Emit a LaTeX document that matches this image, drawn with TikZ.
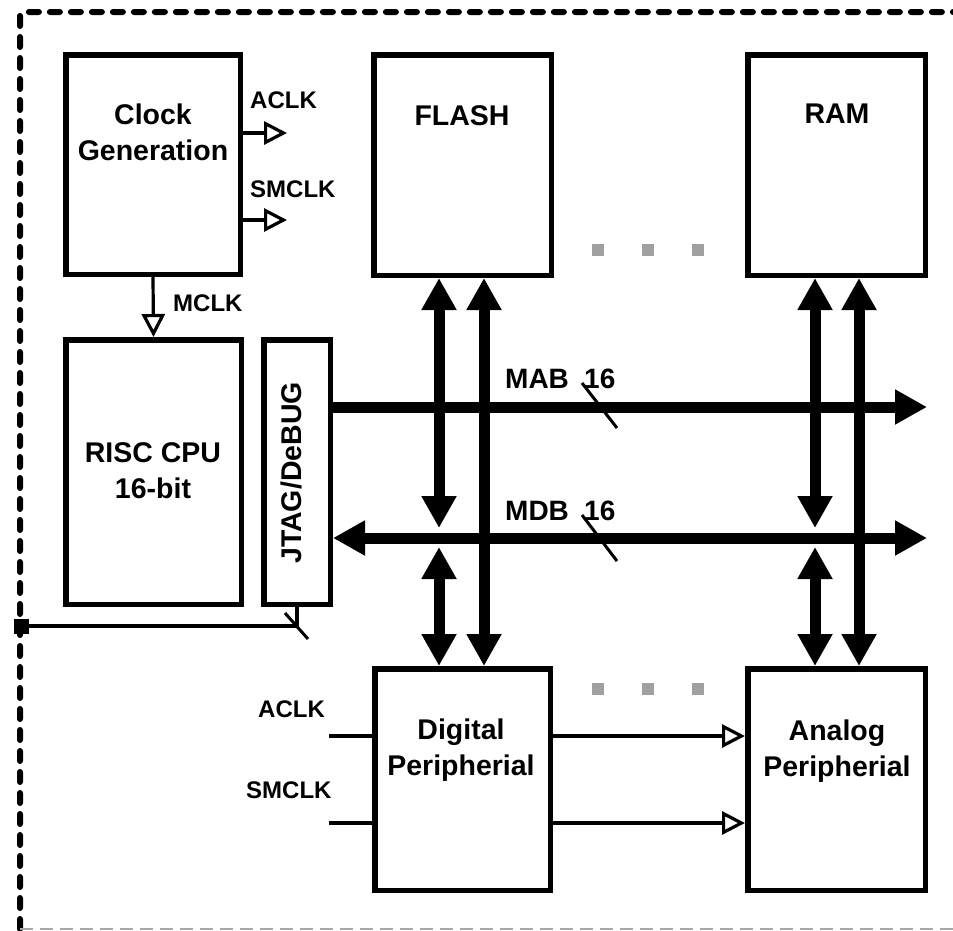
\documentclass[tikz,border=0pt]{standalone}
\usepackage{fontspec}
\setmainfont{Liberation Sans}
\usetikzlibrary{arrows.meta}
\definecolor{dotgray}{HTML}{A0A0A0}
\definecolor{framegray}{HTML}{A8A8A8}
\tikzset{
  bustip/.tip={Triangle[width=33pt,length=32pt]},
  opentip/.tip={Triangle[open,width=23pt,length=23pt]},
}
\begin{document}
\begin{tikzpicture}[x=1pt,y=-1pt,
  block/.style={draw, line width=5.5pt, inner sep=0pt, fill=white},
  boxtext/.style={font=\fontsize{28.5}{36}\selectfont\bfseries, align=center, anchor=north, inner sep=0pt},
  sig/.style={font=\fontsize{24}{28}\selectfont\bfseries, anchor=base west, inner sep=0pt},
  buslbl/.style={font=\fontsize{28}{32}\selectfont\bfseries, anchor=base west, inner sep=0pt},
  bus/.style={line width=11pt},
  wire/.style={line width=3.2pt},
  tick/.style={line width=3pt},
  dotsq/.style={fill=dotgray, minimum size=12pt, inner sep=0pt},
]
\useasboundingbox (0,0) rectangle (953,930);

% frame
\draw[line width=6pt, dash pattern=on 10pt off 11pt, line cap=round, rounded corners=4pt]
  (20,929) -- (20,12) -- (953,12);
\draw[framegray, line width=2pt, dash pattern=on 13pt off 7pt] (20,929) -- (953,929);

% blocks
\node[block, minimum width=174.5pt, minimum height=219.5pt] (clock) at (153,164.5) {};
\node[block, minimum width=175.5pt, minimum height=264.5pt] (cpu) at (153.5,472) {};
\node[block, minimum width=66.5pt, minimum height=264.5pt] (jtag) at (297,472) {};
\node[block, minimum width=177.5pt, minimum height=220.5pt] (flash) at (462.5,165) {};
\node[block, minimum width=177.5pt, minimum height=220.5pt] (ram) at (836.5,165) {};
\node[block, minimum width=175.5pt, minimum height=221.5pt] (digital) at (462.5,779.5) {};
\node[block, minimum width=177.5pt, minimum height=221.5pt] (analog) at (836.5,779.5) {};

% block texts
\node[boxtext] (clockT) at (153,104) {Clock\\Generation};
\node[boxtext] (cpuT) at (153,442) {RISC CPU\\16-bit};
\node[boxtext, anchor=center, rotate=90] (jtagT) at (291,473) {JTAG/DeBUG};
\node[boxtext] (flashT) at (462,105) {FLASH};
\node[boxtext] (ramT) at (837,104) {RAM};
\node[boxtext] (digitalT) at (461,719) {Digital\\Peripherial};
\node[boxtext] (analogT) at (837,720) {Analog\\Peripherial};

% dots
\node[dotsq] (d1) at (598,250) {};
\node[dotsq] (d2) at (648,250) {};
\node[dotsq] (d3) at (698,250) {};
\node[dotsq] (d4) at (598,689) {};
\node[dotsq] (d5) at (648,689) {};
\node[dotsq] (d6) at (698,689) {};

% clock outputs
\coordinate (aclkEnd) at (287,133);
\coordinate (smclkEnd) at (287,220);
\draw[wire,-opentip] (clock.east |- aclkEnd) -- (aclkEnd);
\draw[wire,-opentip] (clock.east |- smclkEnd) -- (smclkEnd);
\draw[wire,-opentip] (clock.south) -- (cpu.north);
\node[sig] (aclkL) at (250,108) {ACLK};
\node[sig] (smclkL) at (250,197) {SMCLK};
\node[sig] (mclkL) at (173,311) {MCLK};

% buses
\coordinate (mabEnd) at (927,407);
\coordinate (mdbEnd) at (927,538);
\draw[bus,-bustip] (jtag.east |- mabEnd) -- (mabEnd);
\draw[bus,bustip-bustip] (jtag.east |- mdbEnd) -- (mdbEnd);

\coordinate (f1u) at (439,528);
\coordinate (f1d) at (439,547);
\coordinate (f2) at (484,0);
\coordinate (r1u) at (815,528);
\coordinate (r1d) at (815,547);
\coordinate (r2) at (859,0);
\draw[bus,bustip-bustip] (flash.south -| f1u) -- (f1u);
\draw[bus,bustip-bustip] (f1d) -- (digital.north -| f1d);
\draw[bus,bustip-bustip] (flash.south -| f2) -- (digital.north -| f2);
\draw[bus,bustip-bustip] (ram.south -| r1u) -- (r1u);
\draw[bus,bustip-bustip] (r1d) -- (analog.north -| r1d);
\draw[bus,bustip-bustip] (ram.south -| r2) -- (analog.north -| r2);

\node[buslbl] (mabL) at (505,388) {MAB};
\node[buslbl] (mab16) at (584,388) {16};
\node[buslbl] (mdbL) at (505,520) {MDB};
\node[buslbl] (mdb16) at (584,520) {16};
\draw[tick] (582,383) -- (617,428);
\draw[tick] (582,515) -- (617,561);

% JTAG pin
\node[fill, minimum size=15pt, inner sep=0pt] (pin) at (21,626) {};
\draw[wire] (jtag.south) |- (pin);
\draw[tick] (285,613) -- (308,639);

% peripheral clocks
\coordinate (aIn) at (329,736);
\coordinate (sIn) at (329,823);
\draw[wire] (aIn) -- (digital.west |- aIn);
\draw[wire] (sIn) -- (digital.west |- sIn);
\draw[wire,-opentip] (digital.east |- aIn) -- (analog.west |- aIn);
\draw[wire,-opentip] (digital.east |- sIn) -- (analog.west |- sIn);
\node[sig] (aclkL2) at (258,717) {ACLK};
\node[sig] (smclkL2) at (246,798) {SMCLK};
\end{tikzpicture}
\end{document}
